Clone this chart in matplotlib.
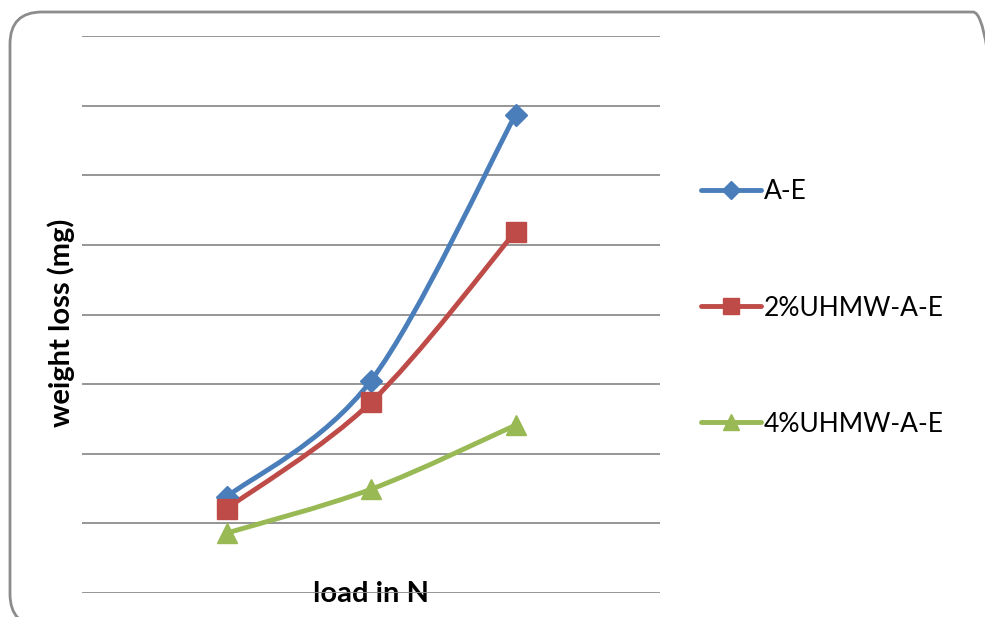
import numpy as np
import matplotlib.pyplot as plt
from matplotlib.path import Path
from matplotlib.patches import PathPatch, FancyBboxPatch
from matplotlib.lines import Line2D
from matplotlib.transforms import IdentityTransform

# load values (tick labels are not shown on the original chart)
loads = [10, 20, 30]
series_names = ["A-E", "2%UHMW-A-E", "4%UHMW-A-E"]
ae = [1.38, 3.05, 6.87]
uhmw2 = [1.21, 2.74, 5.19]
uhmw4 = [0.86, 1.49, 2.41]

colors = ["#4A7EBB", "#BE4B48", "#98B954"]
markers = ["D", "s", "^"]
msizes = [11, 14, 14]

plt.rcParams['font.family'] = ['Lato', 'DejaVu Sans']


def smooth_path(x, y):
    # Excel-style smoothed line: cubic Bezier segments through each point
    pts = np.column_stack([x, y]).astype(float)
    n = len(pts)
    verts = [pts[0]]
    codes = [Path.MOVETO]
    for i in range(n - 1):
        p0 = pts[max(i - 1, 0)]
        p1 = pts[i]
        p2 = pts[i + 1]
        p3 = pts[min(i + 2, n - 1)]
        c1 = p1 + (p2 - p0) / 6.0
        c2 = p2 - (p3 - p1) / 6.0
        verts += [c1, c2, p2]
        codes += [Path.CURVE4] * 3
    return Path(verts, codes)


fig = plt.figure(figsize=(9.85, 6.17), dpi=100)

# rounded chart border, in pixels (runs past the right and bottom edges)
border = FancyBboxPatch((10, -9), 995, 614,
                        boxstyle="round,pad=0,rounding_size=32",
                        transform=IdentityTransform(), fill=False,
                        edgecolor="#8C8C8C", linewidth=2, clip_on=False)
fig.patches.append(border)

ax = fig.add_axes([82 / 985, 1 - 593 / 617, (660 - 82) / 985, (593 - 36) / 617])
ax.set_xlim(0, 40)
ax.set_ylim(0, 8)
ax.set_yticks(np.arange(0, 9, 1))
ax.set_xticks([])
ax.tick_params(axis="y", length=0, labelleft=False)
ax.grid(axis="y", color="#8E8E8E", linewidth=1.3)
ax.set_axisbelow(True)
for s in ax.spines.values():
    s.set_visible(False)

handles = []
for name, vals, c, m, ms in zip(series_names, [ae, uhmw2, uhmw4], colors, markers, msizes):
    ax.add_patch(PathPatch(smooth_path(loads, vals), facecolor="none",
                           edgecolor=c, linewidth=3.5, capstyle="round", zorder=3))
    ax.plot(loads, vals, linestyle="none", marker=m, markersize=ms,
            color=c, zorder=4)
    handles.append(Line2D([], [], color=c, linewidth=3.5, marker=m,
                          markersize=ms * 0.85, solid_capstyle="round"))

ax.set_ylabel("weight loss (mg)", fontsize=21, fontweight="bold")
ax.yaxis.set_label_coords(-0.012, 0.485)
ax.set_xlabel("load in N", fontsize=21, fontweight="bold", labelpad=-9)

fig.legend(handles, series_names, loc="center left",
           bbox_to_anchor=(677 / 985, 1 - 308 / 617), frameon=False,
           fontsize=19, handlelength=2.3, handletextpad=0.1,
           labelspacing=3.45)

fig.savefig("out.png", dpi=100)
